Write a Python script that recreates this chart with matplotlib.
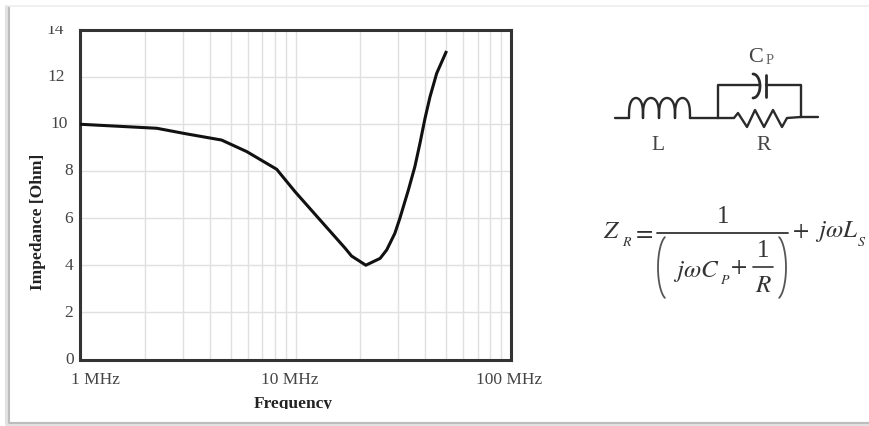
import numpy as np
import matplotlib
matplotlib.use('Agg')
import matplotlib.pyplot as plt
from matplotlib.lines import Line2D
from matplotlib.ticker import NullFormatter
from matplotlib.transforms import Bbox, ScaledTranslation

W, H = 869, 426

# values
freq_mhz = [1, 2.27, 3.13, 4.54, 5.94, 8.18, 8.47, 9.95, 13.0, 17.0, 18.2, 21.2, 24.7, 26.5,
	28.9, 30.5, 33.4, 35.8, 37.8, 39.9, 42.1, 45.2, 49.9]
impedance = [9.98, 9.81, 9.57, 9.31, 8.82, 8.07, 7.90, 7.12, 5.92, 4.72, 4.39, 4.00, 4.29, 4.65,
	5.35, 5.99, 7.19, 8.18, 9.17, 10.23, 11.15, 12.14, 13.03]
y_ticks = [0, 2, 4, 6, 8, 10, 12, 14]
x_ticks = [1, 10, 100]
x_labels = ['1 MHz', '10 MHz', '100 MHz']

# the labels are not lined up in the original, shifts in pixels
y_label_right = [74, 73, 73, 73, 73, 68, 65, 64]
x_label_shift = [15, -6, -2]

plt.rcParams['font.family'] = ['Liberation Serif', 'DejaVu Serif']
plt.rcParams['mathtext.fontset'] = 'stix'

TXT = '#444444'
EQ = '#333333'
fig = plt.figure(figsize=(W / 100., H / 100.), dpi=100, facecolor='white')


def to_fig(x, y):
	# pixel position in the picture -> figure fraction
	return np.asarray(x, dtype=float) / W, 1 - np.asarray(y, dtype=float) / H


def px_line(x, y, color='#2a2a2a', lw=1.7, zorder=5):
	fx, fy = to_fig(x, y)
	fig.add_artist(Line2D(fx, fy, color=color, lw=lw, zorder=zorder, solid_capstyle='round', solid_joinstyle='round'))


def px_text(x, y, s, size=18, color=EQ, ha='center', va='center'):
	fx, fy = to_fig(x, y)
	fig.text(fx, fy, s, fontsize=size, color=color, ha=ha, va=va)


ax = fig.add_axes([80. / W, 1 - 359.5 / H, 431. / W, 330. / H])
ax.set_xscale('log')
ax.set_xlim(1, 100)
ax.set_ylim(0, 14)
ax.plot(freq_mhz, impedance, color='#111111', lw=2.2, zorder=3)

ax.set_yticks(y_ticks)
ax.set_xticks(x_ticks)
ax.set_xticklabels(x_labels)
ax.xaxis.set_minor_formatter(NullFormatter())
ax.grid(True, which='major', color='#e0e0e0', lw=1.0)
ax.grid(True, which='minor', axis='x', color='#e0e0e0', lw=1.0)
ax.tick_params(which='both', length=0)
ax.tick_params(axis='x', labelsize=12.5, labelcolor=TXT, pad=9)
ax.tick_params(axis='y', labelsize=12.5, labelcolor=TXT, pad=0)
ax.set_axisbelow(True)
for s in ax.spines.values():
	s.set_linewidth(2.2)
	s.set_color('#333333')

for lab, right in zip(ax.get_yticklabels(), y_label_right):
	lab.set_transform(lab.get_transform() + ScaledTranslation((right - 80) / 100., 1.5 / 100., fig.dpi_scale_trans))
for lab, dx in zip(ax.get_xticklabels(), x_label_shift):
	lab.set_transform(lab.get_transform() + ScaledTranslation(dx / 100., 0, fig.dpi_scale_trans))

# labels are cut by the picture crop in the original
top_label = ax.get_yticklabels()[-1]
top_label.set_clip_on(True)
top_label.set_clip_box(Bbox([[0, 0], [W, H - 25.5]]))

fig.text(38. / W, 1 - 222. / H, 'Impedance [Ohm]', fontsize=12.5, fontweight='bold', color='#222222',
	rotation=90, ha='center', va='center')
xlab = fig.text(293. / W, 1 - 404. / H, 'Frequency', fontsize=12.5, fontweight='bold', color='#222222',
	ha='center', va='center')
xlab.set_clip_on(True)
xlab.set_clip_box(Bbox([[0, H - 408.5], [W, H]]))

# picture frame with its shadow
px_line([7, 7], [7, 424], color='#e2e2e2', lw=3.0, zorder=1)
px_line([8.5, 8.5], [7, 422], color='#bdbdbd', lw=1.5, zorder=1)
px_line([7, 869], [424, 424], color='#e2e2e2', lw=3.0, zorder=1)
px_line([8.5, 869], [422.5, 422.5], color='#bdbdbd', lw=1.5, zorder=1)
px_line([8, 869], [6, 6], color='#eeeeee', lw=1.2, zorder=1)

# circuit: leads and wires
px_line([615, 629], [118, 118])
px_line([690, 718], [118, 118])
px_line([718, 718, 760], [118, 85, 85])
px_line([766, 801, 801], [85, 85, 117])
px_line([801, 818], [117, 117])
# capacitor plates
px_line([766, 766], [75, 97], lw=2.0)
th = np.linspace(-np.pi / 2, np.pi / 2, 30)
px_line(753 + 7 * np.cos(th), 86 + 12 * np.sin(th), lw=2.0)
# inductor
for x0, x1 in [(629, 643), (643, 659), (659, 675), (675, 690)]:
	th = np.linspace(np.pi, 0, 40)
	px_line((x0 + x1) / 2. + (x1 - x0) / 2. * np.cos(th), 118 - 20 * np.sin(th) ** 0.6)
# resistor
px_line([718, 734, 738, 747, 755, 764, 773, 782, 787, 801],
	[118, 118, 113, 127, 110, 127, 110, 127, 118, 117])

px_text(756, 57, 'C', size=16, color=TXT)
px_text(770, 61, 'P', size=10.5, color='#666666')
px_text(658, 145, 'L', size=15.5, color=TXT)
px_text(764, 145, 'R', size=15.5, color=TXT)

# formula, set by hand since mathtext packs it too tight
px_text(603, 232, r'$Z$', size=18, ha='left')
px_text(627, 242, r'$R$', size=10, ha='center')
px_text(643, 233, r'$=$', size=18)
px_line([657, 788], [232.5, 232.5], color=EQ, lw=1.3)
px_text(723, 217, '1', size=18)
th = np.linspace(-1.25, 1.25, 40)
px_line(668 - 10 * np.cos(th), 267.5 + 32 * np.sin(th), color='#555555', lw=1.3)
px_line(776 + 10 * np.cos(th), 267.5 + 32 * np.sin(th), color='#555555', lw=1.3)
px_text(673, 271, r'$j\omega C$', size=18, ha='left')
px_text(725, 281, r'$P$', size=10)
px_text(738, 268, r'$+$', size=17)
px_line([753, 773], [267, 267], color=EQ, lw=1.2)
px_text(763, 251, '1', size=18)
px_text(764, 286, r'$R$', size=18)
px_text(800, 232, r'$+$', size=17)
px_text(815, 232, r'$j\omega L$', size=18, ha='left')
px_text(862, 242, r'$S$', size=10)

fig.savefig('out.png', dpi=100)
